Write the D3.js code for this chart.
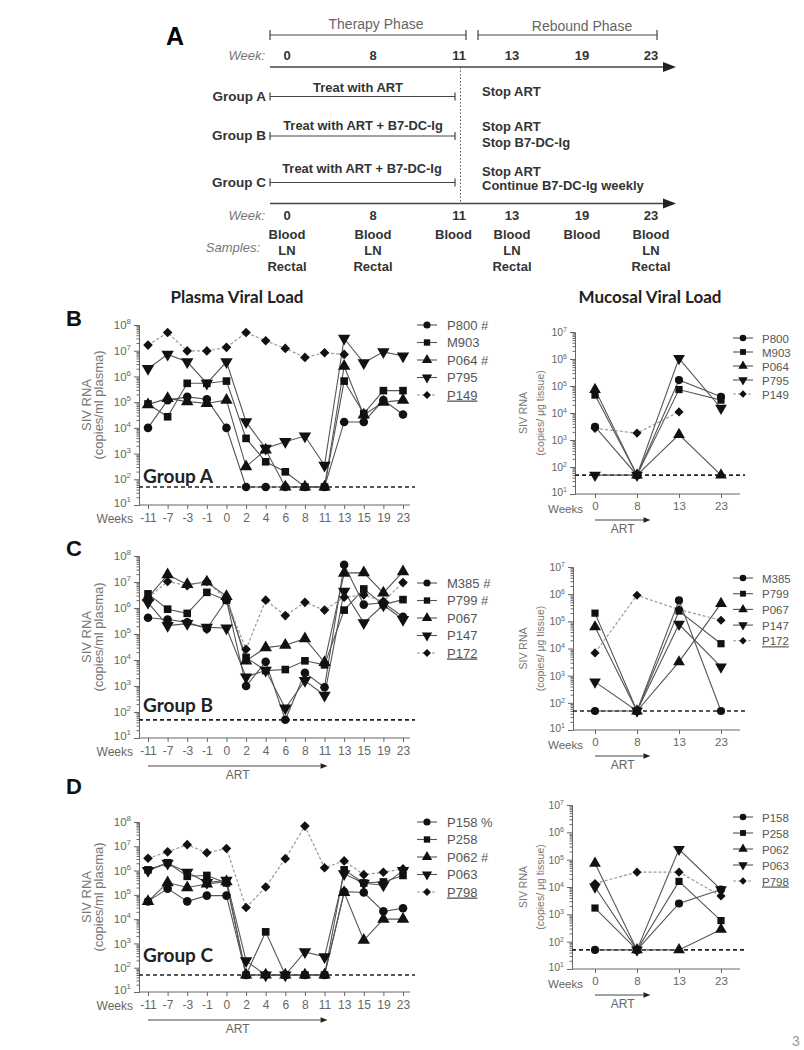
<!DOCTYPE html>
<html>
<head>
<meta charset="utf-8">
<script src="https://cdn.jsdelivr.net/npm/d3@7"></script>
<style>
body { margin: 0; background: #fff; }
svg text { font-family: "Liberation Sans", Arial, sans-serif; }
</style>
</head>
<body>
<svg id="fig" width="804" height="1050"></svg>
<script>
/*----------  Data  ----------*/
var plasmaWeeks = ['-11', '-7', '-3', '-1', '0', '2', '4', '6', '8', '11', '13', '15', '19', '23'];
var mucosalWeeks = ['0', '8', '13', '23'];
var LOD = 50;

var shapeList = ['circle', 'square', 'triangle', 'triangleDown', 'diamond'];

// Group A (panel B)
var namesPlasmaA = ['P800 #', 'M903', 'P064 #', 'P795', 'P149'];
var namesMucosalA = ['P800', 'M903', 'P064', 'P795', 'P149'];
var plasmaA = [
    [1e4, 1.2e5, 1.6e5, 1.3e5, 1e4, 50, 50, 50, 50, 50, 1.7e4, 1.7e4, 1.2e5, 3.3e4],
    [8.5e4, 2.7e4, 5.4e5, 5.4e5, 6.6e5, 3.9e3, 4.8e2, 1.95e2, 50, 50, 6.6e5, 3.6e4, 2.8e5, 2.8e5],
    [8e4, 1.4e5, 1.05e5, 9e4, 1.2e5, 3.1e2, 1.4e3, 50, 50, 50, 2.5e6, 3.2e4, 1e5, 1.2e5],
    [2e6, 7.2e6, 3.7e6, 5.4e5, 3.7e6, 1.7e4, 1.6e3, 2.9e3, 4.8e3, 3.5e2, 3e7, 3.4e6, 9e6, 6.2e6],
    [1.65e7, 5.1e7, 9.8e6, 9.8e6, 1.35e7, 5.1e7, 2.45e7, 1.23e7, 5.5e6, 8.3e6, 7.2e6, null, null, null]
];
var mucosalA = [
    [3.1e3, 50, 1.66e5, 4e4],
    [4.6e4, 50, 7.4e4, 3e4],
    [7.4e4, 50, 1.6e3, 50],
    [50, 50, 1.05e6, 1.5e4],
    [2.7e3, 1.8e3, 1.1e4, null]
];

// Group B (panel C)
var namesPlasmaB = ['M385 #', 'P799 #', 'P067', 'P147', 'P172'];
var namesMucosalB = ['M385', 'P799', 'P067', 'P147', 'P172'];
var plasmaB = [
    [4.2e5, 3.6e5, 2.8e5, 1.6e5, 2e6, 1e3, 8.5e3, 50, 3.2e3, 9e2, 4.6e7, 1.35e6, 1.6e6, 4.6e5],
    [3.5e6, 9e5, 6.2e5, 4e6, 2e6, 1.26e4, 3.9e3, 4.3e3, 9.3e3, 6.5e3, 8.3e5, 5.4e6, 1.35e6, 2.1e6],
    [2.5e6, 1.9e7, 8e6, 1e7, 2.8e6, 9.3e3, 3e4, 3.7e4, 6.6e4, 8.1e3, 2.2e7, 2.3e7, 3.8e6, 2.5e7],
    [1.6e6, 2.1e5, 2.5e5, 1.8e5, 1.7e5, 2.2e3, 4e3, 1.4e2, 1.6e3, 4.4e2, 4.4e6, 2.7e5, 1.3e6, 3.6e5],
    [2.5e6, 1.05e7, 7.2e6, 1.05e7, 2.1e6, 2.6e4, 2e6, 5.1e5, 1.65e6, 8.3e5, 2.6e6, 3.2e6, 1.8e6, 9.5e6]
];
var mucosalB = [
    [50, 50, 5.9e5, 50],
    [2e5, 50, 2.4e5, 1.5e4],
    [6.2e4, 50, 3.2e3, 4.5e5],
    [5.9e2, 50, 7.8e4, 2.1e3],
    [6.9e3, 9.1e5, 2.7e5, 1.1e5]
];

// Group C (panel D)
var namesPlasmaC = ['P158 %', 'P258', 'P062 #', 'P063', 'P798'];
var namesMucosalC = ['P158', 'P258', 'P062', 'P063', 'P798'];
var plasmaC = [
    [5.4e4, 1.8e5, 5.4e4, 9.3e4, 9.3e4, 50, 50, 50, 50, 50, 1.35e5, 1.25e5, 2.1e4, 2.8e4],
    [1.07e6, 2.1e6, 5.8e5, 6.3e5, 3.1e5, 50, 3e3, 50, 50, 50, 1.07e6, 3.1e5, 3.4e5, 6.3e5],
    [5.4e4, 3.2e5, 2e5, 2.8e5, 3.5e5, 50, 50, 50, 50, 50, 1.25e5, 1.35e3, 1e4, 1e4],
    [1e6, 2e6, 8.5e5, 3.2e5, 4e5, 1.9e2, 50, 50, 4.5e2, 2.8e2, 7.4e5, 3e5, 2.5e5, 1e6],
    [3.2e6, 5.9e6, 1.17e7, 5.4e6, 8.1e6, 3e4, 2.1e5, 3.1e6, 6.8e7, 1.3e6, 2.5e6, 6.8e5, 8.5e5, 1.17e6]
];
var mucosalC = [
    [50, 50, 2.5e3, 8.1e3],
    [1.7e3, 50, 1.6e4, 5.9e2],
    [7.4e4, 50, 50, 2.8e2],
    [1e4, 50, 2.4e5, 8e3],
    [1.35e4, 3.5e4, 3.5e4, 4.7e3]
];

// Panel A (study design)
var timelineWeeks = ['0', '8', '11', '13', '19', '23'];
var sampleRows = [['Blood', 'LN', 'Rectal'], ['Blood', 'LN', 'Rectal'], ['Blood'], ['Blood', 'LN', 'Rectal'], ['Blood'], ['Blood', 'LN', 'Rectal']];
var groupLabels = ['Group A', 'Group B', 'Group C'];
var treatLabels = ['Treat with ART', 'Treat with ART + B7-DC-Ig', 'Treat with ART + B7-DC-Ig'];
var stopLabels = [['Stop ART'], ['Stop ART', 'Stop B7-DC-Ig'], ['Stop ART', 'Continue B7-DC-Ig weekly']];

var svg = d3.select('#fig');

/*----------  Panel A  ----------*/
var tl = d3.scaleOrdinal().domain(timelineWeeks).range([287, 373, 459, 512, 582, 651]);
var gA = svg.append('g');

function hline(g, x1, x2, y, w) {
    g.append('line').attr('x1', x1).attr('x2', x2).attr('y1', y).attr('y2', y)
        .attr('stroke', '#444').attr('stroke-width', w || 1.2);
}
function bracket(g, x1, x2, y, h) {
    hline(g, x1, x2, y);
    [x1, x2].forEach(function (x) {
        g.append('line').attr('x1', x).attr('x2', x).attr('y1', y - h).attr('y2', y + h)
            .attr('stroke', '#444').attr('stroke-width', 1.2);
    });
}
function arrow(g, x1, x2, y, w, head) {
    hline(g, x1, x2 - head, y, w);
    g.append('path')
        .attr('d', 'M' + x2 + ',' + y + 'L' + (x2 - head) + ',' + (y - head * 0.38) + 'L' + (x2 - head) + ',' + (y + head * 0.38) + 'Z')
        .attr('fill', '#222');
}

gA.append('text').attr('x', 166).attr('y', 45).attr('font-size', 25).attr('font-weight', 'bold').text('A');

bracket(gA, 270, 466, 35, 5);
bracket(gA, 478, 657, 35, 5);
gA.append('text').attr('x', 376).attr('y', 29).attr('text-anchor', 'middle').attr('font-size', 14).attr('fill', '#666').text('Therapy Phase');
gA.append('text').attr('x', 582).attr('y', 31).attr('text-anchor', 'middle').attr('font-size', 14).attr('fill', '#666').text('Rebound Phase');

[60, 220].forEach(function (yy) {
    gA.append('text').attr('x', 265).attr('y', yy).attr('text-anchor', 'end').attr('font-size', 13)
        .attr('font-style', 'italic').attr('fill', '#777').text('Week:');
    gA.selectAll(null).data(timelineWeeks).enter().append('text')
        .attr('x', d => tl(d)).attr('y', yy).attr('text-anchor', 'middle')
        .attr('font-size', 13).attr('font-weight', 'bold').attr('fill', '#333').text(d => d);
});

arrow(gA, 270, 676, 67, 1.6, 13);
arrow(gA, 270, 676, 203.5, 1.6, 13);

gA.append('line').attr('x1', 460.5).attr('x2', 460.5).attr('y1', 67).attr('y2', 203.5)
    .attr('stroke', '#555').attr('stroke-width', 1).attr('stroke-dasharray', '1.5,2');

var barY = [96.5, 136, 182.5];
var treatY = [92, 130, 173];
var treatX = [358, 363, 362];
var stopY = [[95.5], [131, 146.5], [175.5, 190]];
groupLabels.forEach(function (lab, i) {
    bracket(gA, 270, 455, barY[i], 4);
    gA.append('text').attr('x', 266).attr('y', barY[i] + 4).attr('text-anchor', 'end')
        .attr('font-size', 13.5).attr('font-weight', 'bold').attr('fill', '#333').text(lab);
    gA.append('text').attr('x', treatX[i]).attr('y', treatY[i]).attr('text-anchor', 'middle')
        .attr('font-size', 12.9).attr('font-weight', 'bold').attr('fill', '#333').text(treatLabels[i]);
    stopLabels[i].forEach(function (s, j) {
        gA.append('text').attr('x', 482).attr('y', stopY[i][j])
            .attr('font-size', 13).attr('font-weight', 'bold').attr('fill', '#333').text(s);
    });
});

gA.append('text').attr('x', 260).attr('y', 252).attr('text-anchor', 'end').attr('font-size', 13)
    .attr('font-style', 'italic').attr('fill', '#777').text('Samples:');
sampleRows.forEach(function (rows, i) {
    rows.forEach(function (s, j) {
        gA.append('text').attr('x', tl(timelineWeeks[i]) - (i === 2 ? 5.5 : 0)).attr('y', 238.5 + j * 16)
            .attr('text-anchor', 'middle').attr('font-size', 13).attr('font-weight', 'bold')
            .attr('fill', '#333').text(s);
    });
});

/*----------  Section titles  ----------*/
svg.append('text').attr('x', 237).attr('y', 303).attr('text-anchor', 'middle')
    .style('font-family', 'Lato, "Open Sans", sans-serif').attr('font-size', 17).attr('font-weight', 'bold')
    .attr('fill', '#222').text('Plasma Viral Load');
svg.append('text').attr('x', 650).attr('y', 303).attr('text-anchor', 'middle')
    .style('font-family', 'Lato, "Open Sans", sans-serif').attr('font-size', 17).attr('font-weight', 'bold')
    .attr('fill', '#222').text('Mucosal Viral Load');

/*----------  Viral load panels  ----------*/
function symbolPath(shape, size) {
    if (shape === 'circle') return d3.symbol(d3.symbolCircle, size)();
    if (shape === 'triangle' || shape === 'triangleDown') return d3.symbol(d3.symbolTriangle, size * 1.15)();
    return d3.symbol(d3.symbolSquare, shape === 'diamond' ? size * 0.8 : size)();
}
function symbolRot(shape) {
    if (shape === 'triangleDown') return ' rotate(180)';
    if (shape === 'diamond') return ' rotate(45)';
    return '';
}

function drawPanel(o) {
    var g = svg.append('g');
    var big = o.type === 'plasma';
    var y = d3.scaleLog().domain([10, Math.pow(10, o.maxExp)]).range([o.bottom, o.top]);
    var x = d3.scalePoint().domain(o.weeks).range([o.xStart, o.xEnd]);

    var majors = d3.range(1, o.maxExp + 1).map(e => Math.pow(10, e));
    var minors = [];
    d3.range(1, o.maxExp).forEach(function (e) {
        d3.range(2, 10).forEach(function (m) { minors.push(m * Math.pow(10, e)); });
    });

    // y axis
    var gy = g.append('g').attr('transform', 'translate(' + o.axisX + ',0)');
    gy.append('g').call(d3.axisLeft(y).tickValues(minors).tickSize(2.5).tickSizeOuter(0).tickFormat(''));
    var gyM = gy.append('g').call(d3.axisLeft(y).tickValues(majors).tickSize(5).tickSizeOuter(0).tickFormat('').tickPadding(3));
    gy.selectAll('path, line').attr('stroke', '#666');
    gyM.selectAll('.tick text').each(function (d) {
        var t = d3.select(this);
        t.text('10').attr('font-size', big ? 11.5 : 10.5).attr('fill', '#666')
            .style('font-family', '"Liberation Sans", Arial, sans-serif');
        t.append('tspan').attr('dy', big ? -5 : -4).attr('font-size', big ? 8 : 7)
            .text(Math.round(Math.log10(d)));
    });
    // keep the lowest label clear of the week row
    gyM.selectAll('.tick text').filter(d => d === 10).attr('dy', '0.1em');

    // x axis
    var gx = g.append('g').attr('transform', 'translate(0,' + o.bottom + ')')
        .call(d3.axisBottom(x).tickSize(4).tickSizeOuter(0).tickPadding(big ? 4 : 4));
    gx.select('.domain').remove();
    gx.selectAll('line').attr('stroke', '#666');
    gx.selectAll('text').attr('font-size', big ? 12 : 11.5).attr('fill', '#666')
        .style('font-family', '"Liberation Sans", Arial, sans-serif');
    g.append('line').attr('x1', o.axisX).attr('x2', o.axisEnd).attr('y1', o.bottom).attr('y2', o.bottom)
        .attr('stroke', '#666');
    g.append('text').attr('x', big ? 133 : 583).attr('y', o.bottom + (big ? 17.5 : 19))
        .attr('text-anchor', 'end').attr('font-size', big ? 12 : 11.5).attr('fill', '#666').text('Weeks');

    // y title
    var midY = (o.top + o.bottom) / 2 - (big ? 10 : 0);
    var tx = big ? [91, 103] : [527, 544];
    var tt = big ? ['SIV RNA', '(copies/ml plasma)'] : ['SIV RNA', '(copies/ μg tissue)'];
    tt.forEach(function (s, i) {
        g.append('text').attr('transform', 'translate(' + tx[i] + ',' + midY + ') rotate(-90)')
            .attr('text-anchor', 'middle').attr('font-size', big ? 13 : 10.5).attr('fill', '#777').text(s);
    });

    // detection limit
    g.append('line').attr('x1', o.axisX).attr('x2', o.axisEnd + 5).attr('y1', y(LOD)).attr('y2', y(LOD))
        .attr('stroke', '#222').attr('stroke-width', 1.6).attr('stroke-dasharray', '4,3');

    // series lines
    var line = d3.line().defined(d => d != null).x((d, i) => x(o.weeks[i])).y(d => y(d));
    o.series.forEach(function (vals, k) {
        var dash = shapeList[k] === 'diamond';
        g.append('path').attr('d', line(vals)).attr('fill', 'none')
            .attr('stroke', dash ? '#999' : '#555').attr('stroke-width', dash ? 1.2 : 1.1)
            .attr('stroke-dasharray', dash ? '3,2' : null);
    });
    // markers
    o.series.forEach(function (vals, k) {
        var sh = shapeList[k];
        g.selectAll(null).data(vals.map((v, i) => ({ v: v, w: o.weeks[i] })).filter(d => d.v != null))
            .enter().append('path')
            .attr('d', symbolPath(sh, big ? 58 : 52))
            .attr('transform', d => 'translate(' + x(d.w) + ',' + y(d.v) + ')' + symbolRot(sh))
            .attr('fill', '#111');
    });

    // legend
    o.names.forEach(function (n, k) {
        var ly = o.legendY + k * o.legendStep;
        var sh = shapeList[k];
        g.append('line').attr('x1', o.legendX - 10).attr('x2', o.legendX + 10).attr('y1', ly).attr('y2', ly)
            .attr('stroke', sh === 'diamond' ? '#999' : '#555').attr('stroke-width', 1.1)
            .attr('stroke-dasharray', sh === 'diamond' ? '3,2' : null);
        g.append('path').attr('d', symbolPath(sh, big ? 40 : 34))
            .attr('transform', 'translate(' + o.legendX + ',' + ly + ')' + symbolRot(sh)).attr('fill', '#111');
        g.append('text').attr('x', o.legendX + (big ? 20 : 19)).attr('y', ly + 4.5)
            .attr('font-size', big ? 13 : 11.5).attr('fill', '#555')
            .attr('text-decoration', o.underline.indexOf(k) >= 0 ? 'underline' : null).text(n);
    });

    // panel letter and group label
    if (o.letter) {
        g.append('text').attr('x', 66).attr('y', o.letterY).attr('font-size', 22).attr('font-weight', 'bold')
            .attr('fill', '#111').text(o.letter);
        g.append('text').attr('x', 143).attr('y', o.groupY)
            .style('font-family', 'Lato, "Open Sans", sans-serif').attr('font-size', 19).attr('font-weight', 'bold')
            .attr('fill', '#222').text(o.group);
    }

    // ART arrow
    if (o.art) {
        var ax1 = x(o.weeks[0]);
        var ax2 = big ? x('11') + 3 : x('8') + x.step() * 0.32;
        var ay = o.bottom + (big ? 28 : 26);
        arrow(g, ax1, ax2, ay, 1, 7);
        g.append('text').attr('x', (ax1 + ax2) / 2).attr('y', ay + 13).attr('text-anchor', 'middle')
            .attr('font-size', 12).attr('fill', '#666').text('ART');
    }
}

var plasmaLayout = { type: 'plasma', axisX: 139, xStart: 148, xEnd: 403, axisEnd: 410, maxExp: 8, weeks: plasmaWeeks, legendX: 427, legendStep: 17.5 };
var mucosalLayout = { type: 'mucosal', xStart: 595, xEnd: 721, axisEnd: 740, maxExp: 7, weeks: mucosalWeeks, legendX: 743, art: true };

drawPanel(Object.assign({}, plasmaLayout, { top: 325, bottom: 505, series: plasmaA, names: namesPlasmaA, underline: [4], legendY: 325, letter: 'B', letterY: 326, group: 'Group A', groupY: 483, art: false }));
drawPanel(Object.assign({}, plasmaLayout, { top: 556, bottom: 738, series: plasmaB, names: namesPlasmaB, underline: [4], legendY: 583, letter: 'C', letterY: 556, group: 'Group B', groupY: 712, art: true }));
drawPanel(Object.assign({}, plasmaLayout, { top: 822, bottom: 992, series: plasmaC, names: namesPlasmaC, underline: [4], legendY: 822, letter: 'D', letterY: 794, group: 'Group C', groupY: 962, art: true }));

drawPanel(Object.assign({}, mucosalLayout, { axisX: 575, top: 332, bottom: 494, series: mucosalA, names: namesMucosalA, underline: [], legendY: 338, legendStep: 14 }));
drawPanel(Object.assign({}, mucosalLayout, { axisX: 573, top: 567, bottom: 730, series: mucosalB, names: namesMucosalB, underline: [4], legendY: 578, legendStep: 15.7 }));
drawPanel(Object.assign({}, mucosalLayout, { axisX: 572, top: 805, bottom: 969, series: mucosalC, names: namesMucosalC, underline: [4], legendY: 817, legendStep: 16 }));

// page number
svg.append('text').attr('x', 792).attr('y', 1046).attr('font-size', 14).attr('fill', '#999').text('3');
</script>
</body>
</html>
